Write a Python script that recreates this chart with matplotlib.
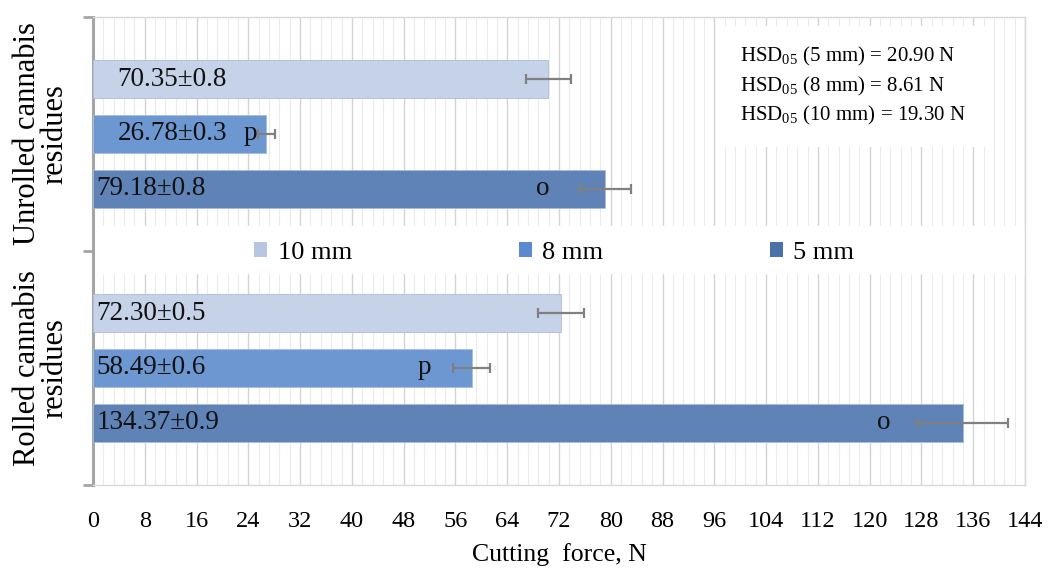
import numpy as np
import matplotlib
matplotlib.use("Agg")
import matplotlib.pyplot as plt
from matplotlib.patches import Patch

plt.rcParams["font.family"] = ["Liberation Serif", "DejaVu Serif"]
plt.rcParams["mathtext.fontset"] = "custom"
plt.rcParams["mathtext.rm"] = "Liberation Serif"

# data
groups = ["Unrolled cannabis\nresidues", "Rolled cannabis\nresidues"]
series = ["10 mm", "8 mm", "5 mm"]
means = [[70.35, 26.78, 79.18],   # unrolled
         [72.30, 58.49, 134.37]]  # rolled
sd = [[0.8, 0.3, 0.8],
      [0.5, 0.6, 0.9]]
errs = [[3.5, 1.3, 4.0],
        [3.6, 2.9, 7.0]]
letters = ["", "p", "o"]
hsd_lines = ["HSD$_{\\rm 05}$ (5 mm) = 20.90 N",
             "HSD$_{\\rm 05}$ (8 mm) = 8.61 N",
             "HSD$_{\\rm 05}$ (10 mm) = 19.30 N"]
xticks = np.arange(0, 145, 8)

# styles / layout
bar_colors = ["#c6d2e7", "#6d97d1", "#5f83b6"]
legend_colors = ["#b7c7e3", "#5a8ad0", "#4b71aa"]
offsets = [-0.235, 0.0, 0.235]
bar_h = 0.162
label_x = [[3.8, 3.8, 0.5], [0.5, 0.5, 0.5]]
letter_gap = [[0, 0.2, 4.6], [0, 3.4, 4.1]]

fig = plt.figure(figsize=(10.51, 5.68), dpi=100)
ax = fig.add_axes([93 / 1051, 1 - 485 / 568, (1025 - 93) / 1051, (485 - 17) / 568])

for g in range(len(groups)):
    for s in range(len(series)):
        y = g + offsets[s]
        v = means[g][s]
        ax.barh(y, v, height=bar_h, color=bar_colors[s], edgecolor="#a9bcdc",
                linewidth=0.6, zorder=3)
        ax.errorbar(v, y, xerr=errs[g][s], fmt="none", ecolor="#808080",
                    elinewidth=1.6, capsize=3.8, capthick=1.6, zorder=4)
        ax.text(label_x[g][s], y, "%.2f±%.1f" % (v, sd[g][s]), fontsize=19.5,
                va="center", ha="left", color="#111111", zorder=5)
        if letters[s]:
            ax.text(v - errs[g][s] - letter_gap[g][s], y, letters[s], fontsize=19.5,
                    va="center", ha="right", color="#111111", zorder=5)

ax.set_xlim(0, 144)
ax.set_ylim(1.5, -0.5)
ax.set_xticks(xticks)
ax.set_xticks(np.arange(0, 144.01, 1.6), minor=True)
ax.set_xticklabels([str(t) for t in xticks], fontsize=17.5)
ax.tick_params(axis="x", which="both", length=0, pad=19)
ax.grid(axis="x", which="major", color="#d4d4d4", linewidth=1.0, zorder=0)
ax.grid(axis="x", which="minor", color="#ebebeb", linewidth=0.8, zorder=0)
ax.set_axisbelow(True)

ax.set_yticks([-0.5, 0.5, 1.5])
ax.set_yticklabels([])
ax.tick_params(axis="y", length=7, width=2, color="#a6a6a6")
for i, name in enumerate(groups):
    ax.text(-0.025, i, name, transform=ax.get_yaxis_transform(), rotation=90,
            ha="right", va="center", multialignment="center", fontsize=22,
            linespacing=0.95)

for side in ["top", "right", "bottom"]:
    ax.spines[side].set_color("#d9d9d9")
    ax.spines[side].set_linewidth(1.0)
ax.spines["left"].set_color("#a6a6a6")
ax.spines["left"].set_linewidth(2.2)

# white band behind the legend
ax.axhspan(0.5 - 25 / 234, 0.5 + 22 / 234, color="white", zorder=1)
handles = [Patch(facecolor=c, edgecolor="none") for c in legend_colors]
ax.legend(handles, series, loc="center", bbox_to_anchor=(0.495, 0.495), ncol=3,
          frameon=False, fontsize=19, handlelength=0.5, handleheight=0.5,
          handletextpad=0.4, columnspacing=6.3)

ax.text(0.694, 0.94, "\n".join(hsd_lines), transform=ax.transAxes, fontsize=15,
        va="top", ha="left", linespacing=1.4, zorder=6,
        bbox=dict(facecolor="white", edgecolor="none", pad=14))

ax.set_xlabel("Cutting  force, N", fontsize=18.5, labelpad=8)

fig.savefig("out.png", dpi=100)
